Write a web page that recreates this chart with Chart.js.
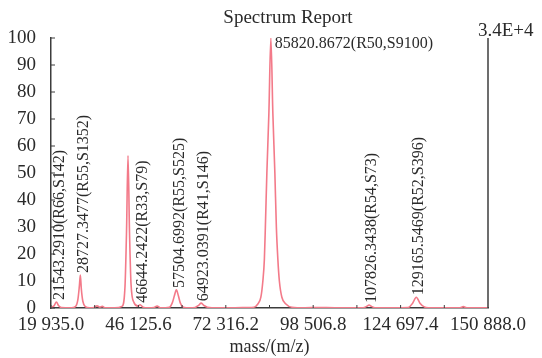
<!DOCTYPE html>
<html>
<head>
<meta charset="utf-8">
<script src="https://cdn.jsdelivr.net/npm/chart.js@4/dist/chart.umd.min.js"></script>
<style>
  html, body { margin: 0; padding: 0; background: #fff; }
  #wrap { width: 542px; height: 358px; }
</style>
</head>
<body>
<div id="wrap"><canvas id="spectrum"></canvas></div>
<script>
// Espectro: masa (m/z) e intensidad relativa (%)
var masses = [19935, 20835, 21543, 22243, 23043, 26000, 27227, 27977, 28427, 28727, 29027, 29477, 30227,
  31500, 32800, 33735, 34600, 35300, 36200, 39000, 41212, 42112, 42562, 43012, 43462, 43912, 44812,
  46012, 46644, 47544, 49000, 50800, 51735, 52700, 55404, 56304, 56904, 57504, 58104, 58704, 59604,
  61500, 63100, 64200, 64923, 65700, 66800, 70000, 75000, 79000, 80726, 81925, 82824, 83423, 83873,
  84173, 84622, 85222, 85821, 86420, 87020, 87469, 87919, 88368, 89118, 90317, 92115, 96000, 100000,
  105000, 110000, 113500, 114500, 115240, 116000, 117000, 122000, 127000, 128300, 129400, 130500,
  131800, 133000, 138000, 142500, 143500, 144500, 150888];
var intensities = [0.2, 0.8, 2.2, 0.8, 0.2, 0.1, 0.5, 3, 8, 12.2, 7, 2.5, 0.5,
  0.1, 0.2, 0.8, 0.3, 0.6, 0.1, 0.1, 0.6, 8, 28, 56.5, 28, 9, 2,
  0.7, 1.2, 0.3, 0.1, 0.2, 0.7, 0.1, 0.3, 2, 4.5, 6.7, 4.5, 1.8, 0.3,
  0.1, 0.2, 1, 1.8, 1, 0.3, 0.1, 0.1, 0.2, 0.3, 1.5, 4, 10, 18,
  30, 50, 72, 100, 72, 50, 30, 18, 10, 4, 1.5, 0.3, 0.1, 0.2,
  0.1, 0.1, 0.1, 0.6, 1.1, 0.6, 0.1, 0.1, 0.2, 1.8, 4, 1.8,
  0.4, 0.1, 0.1, 0.1, 0.5, 0.1, 0.1];

// Etiquetas de picos
var peakMasses = [21543, 28727, 46644, 57504, 64923, 85821, 115240, 129400];
var peakHeights = [2.2, 12.2, 1.2, 6.7, 1.8, 100, 1.1, 4];
var peakLabels = ['21543.2910(R66,S142)', '28727.3477(R55,S1352)', '46644.2422(R33,S79)',
  '57504.6992(R55,S525)', '64923.0391(R41,S146)', '85820.8672(R50,S9100)',
  '107826.3438(R54,S73)', '129165.5469(R52,S396)'];

// Eje X
var xTickValues = [19935.0, 46125.6, 72316.2, 98506.8, 124697.4, 150888.0];
var xTickLabels = ['19 935.0', '46 125.6', '72 316.2', '98 506.8', '124 697.4', '150 888.0'];
var yTickValues = [0, 10, 20, 30, 40, 50, 60, 70, 80, 90, 100];

var chartTitle = 'Spectrum Report';
var scaleNote = '3.4E+4';
var xTitle = 'mass/(m/z)';

var serif = '"Liberation Serif", "DejaVu Serif", serif';
var textColor = '#2a2a2a';
var axisColor = '#3c3c3c';

var puntos = masses.map(function (m, i) { return { x: m, y: intensities[i] }; });

// Plugin: titulo, borde derecho, marcas internas y etiquetas de picos
var extras = {
  id: 'extras',
  afterDatasetsDraw: function (chart) {
    var ctx = chart.ctx;
    var area = chart.chartArea;
    var xs = chart.scales.x;
    var ys = chart.scales.y;
    ctx.save();

    // borde derecho
    ctx.strokeStyle = axisColor;
    ctx.lineWidth = 1.5;
    ctx.beginPath();
    ctx.moveTo(area.right, area.top);
    ctx.lineTo(area.right, area.bottom);
    ctx.stroke();

    // marcas hacia dentro
    ctx.lineWidth = 1;
    yTickValues.forEach(function (v) {
      var y = ys.getPixelForValue(v);
      ctx.beginPath();
      ctx.moveTo(area.left, y);
      ctx.lineTo(area.left + 4, y);
      ctx.stroke();
    });
    for (var i = 0; i < xTickValues.length - 1; i++) {
      [xTickValues[i], (xTickValues[i] + xTickValues[i + 1]) / 2].forEach(function (v) {
        var x = xs.getPixelForValue(v);
        ctx.beginPath();
        ctx.moveTo(x, area.bottom);
        ctx.lineTo(x, area.bottom - 3);
        ctx.stroke();
      });
    }

    // textos
    ctx.fillStyle = textColor;
    ctx.font = '19px ' + serif;
    ctx.textAlign = 'center';
    ctx.textBaseline = 'middle';
    ctx.fillText(chartTitle, chart.width / 2 + 17, 18);
    ctx.textAlign = 'left';
    ctx.fillText(scaleNote, area.right - 10, area.top - 7);

    ctx.font = '16px ' + serif;
    peakMasses.forEach(function (m, i) {
      var x = xs.getPixelForValue(m);
      var y = ys.getPixelForValue(peakHeights[i]);
      if (peakHeights[i] >= 100) {
        ctx.textAlign = 'left';
        ctx.textBaseline = 'middle';
        ctx.fillText(peakLabels[i], x + 4, y + 6);
      } else {
        ctx.save();
        ctx.translate(x + 3, y - 2);
        ctx.rotate(-Math.PI / 2);
        ctx.textAlign = 'left';
        ctx.textBaseline = 'middle';
        ctx.fillText(peakLabels[i], 0, 0);
        ctx.restore();
      }
    });
    ctx.restore();
  }
};

var ctxS = document.getElementById('spectrum').getContext('2d');

var espectro = new Chart(ctxS, {
  type: 'line',
  data: {
    datasets: [{
      label: 'Espectro',
      data: puntos,
      borderColor: '#f37a89',
      backgroundColor: '#f37a89',
      borderWidth: 1.6,
      pointRadius: 0,
      cubicInterpolationMode: 'monotone'
    }]
  },
  options: {
    responsive: true,
    maintainAspectRatio: false,
    animation: false,
    layout: {
      padding: { top: 38, right: 54, left: 0, bottom: 0 }
    },
    scales: {
      x: {
        type: 'linear',
        min: 19935,
        max: 150888,
        afterBuildTicks: function (scale) {
          scale.ticks = xTickValues.map(function (v) { return { value: v }; });
        },
        afterFit: function (scale) { scale.height = 50; },
        grid: { display: false },
        border: { display: true, color: axisColor, width: 1.5 },
        ticks: {
          autoSkip: false,
          maxRotation: 0,
          padding: 0,
          color: textColor,
          font: { family: serif, size: 19, lineHeight: 1 },
          callback: function (value) {
            var i = xTickValues.indexOf(value);
            return i >= 0 ? xTickLabels[i] : '';
          }
        },
        title: {
          display: true,
          text: xTitle,
          color: textColor,
          font: { family: serif, size: 18 },
          padding: { top: 0, bottom: 0 }
        }
      },
      y: {
        min: 0,
        max: 100,
        afterBuildTicks: function (scale) {
          scale.ticks = yTickValues.map(function (v) { return { value: v }; });
        },
        afterFit: function (scale) { scale.width = 51; },
        grid: { display: false },
        border: { display: true, color: axisColor, width: 1.5 },
        ticks: {
          padding: 7,
          color: textColor,
          font: { family: serif, size: 19 }
        }
      }
    },
    plugins: {
      legend: { display: false },
      tooltip: { enabled: false }
    }
  },
  plugins: [extras]
});
</script>
</body>
</html>
